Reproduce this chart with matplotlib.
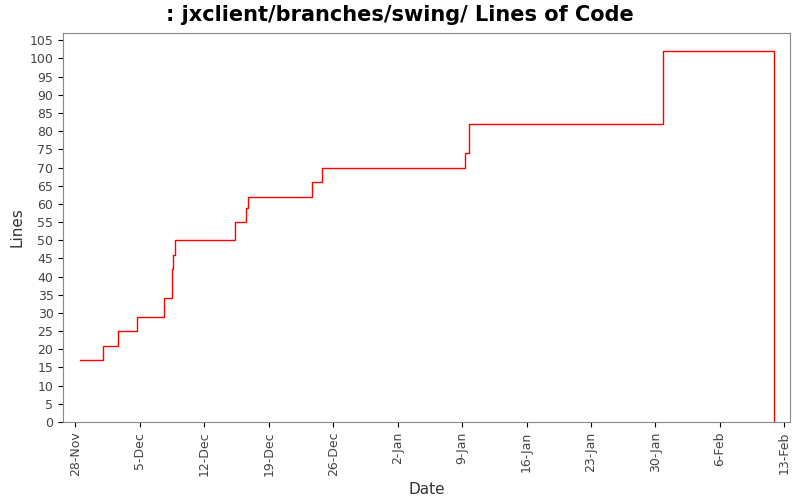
import matplotlib
matplotlib.use("Agg")
import matplotlib.pyplot as plt
import matplotlib.dates as mdates
import pandas as pd

dates = ["2007-11-28 12:00", "2007-11-30 23:00", "2007-12-02 16:00", "2007-12-04 17:00",
         "2007-12-07 16:00", "2007-12-08 12:00", "2007-12-08 15:00", "2007-12-08 19:00",
         "2007-12-15 07:00", "2007-12-16 13:00", "2007-12-16 18:00", "2007-12-23 17:00",
         "2007-12-24 19:00", "2008-01-09 07:00", "2008-01-09 19:00", "2008-01-30 19:00",
         "2008-02-11 22:00", "2008-02-11 22:01"]
lines = [17, 21, 25, 29, 34, 42, 46, 50, 55, 59, 62, 66, 70, 74, 82, 102, 102, 0]

x = pd.to_datetime(dates)
fig = plt.figure(figsize=(8, 5), dpi=100)
ax = fig.add_axes([0.079, 0.156, 0.909, 0.778])
ax.step(x, lines, where="post", color="red", linewidth=1)
ax.set_xlim(pd.Timestamp("2007-11-26 16:00"), pd.Timestamp("2008-02-13 16:00"))
ax.set_ylim(0, 107)
ax.set_yticks(range(0, 106, 5))
ax.xaxis.set_major_locator(mdates.DayLocator(bymonthday=None, interval=7) if False else
                           mdates.WeekdayLocator(byweekday=mdates.WE))
ax.xaxis.set_major_formatter(mdates.DateFormatter("%-d-%b"))
plt.setp(ax.get_xticklabels(), rotation=90, fontsize=9, color="#444444")
plt.setp(ax.get_yticklabels(), fontsize=9, color="#444444")
for s in ax.spines.values():
    s.set_color("#888888")
ax.set_xlabel("Date", fontsize=11, color="#333333")
ax.set_ylabel("Lines", fontsize=11, color="#333333")
fig.suptitle(": jxclient/branches/swing/ Lines of Code", fontsize=15, fontweight="bold", y=0.99)
fig.savefig("out.png", dpi=100)
